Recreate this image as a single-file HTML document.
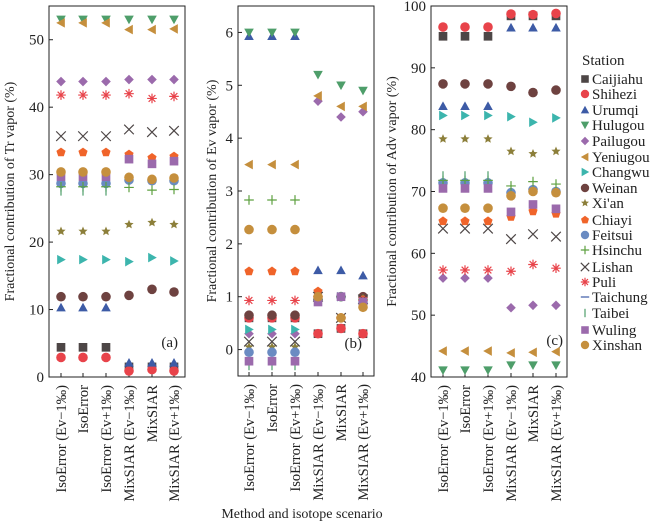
<!DOCTYPE html>
<html><head><meta charset="utf-8"><style>
html,body{margin:0;padding:0;background:#fff;}
svg{display:block;font-family:"Liberation Serif",serif;}
svg text{font-family:"Liberation Serif",serif;}
</style></head><body>
<svg id="s" width="650" height="524" viewBox="0 0 650 524" xmlns="http://www.w3.org/2000/svg"></svg>
<script>
const S=document.getElementById('s');
const FF='font-family="Liberation Serif, serif"';
let h='';
const st=[
['Caijiahu','#4d4646','sq'],['Shihezi','#e8434a','ci'],['Urumqi','#3d5ba6','tu'],['Hulugou','#4e9e6a','td'],
['Pailugou','#9b6aac','di'],['Yeniugou','#c58f3d','tl'],['Changwu','#3cb5ad','tr'],['Weinan','#6e4240','ci'],
["Xi'an",'#8c7f3a','star'],['Chiayi','#f0642a','pent'],['Feitsui','#6a8bc2','ci'],['Hsinchu','#5ea040','plus'],
['Lishan','#4d4646','x'],['Puli','#e8434a','ast'],['Taichung','#3d5ba6','hl'],['Taibei','#4e9e6a','vl'],
['Wuling','#9b6aac','sq'],['Xinshan','#c58f3d','ci']];
function mk(t,c,x,y,r){r=r||4.8;
 switch(t){
 case 'sq':return `<rect x="${x-r*0.9}" y="${y-r*0.9}" width="${r*1.8}" height="${r*1.8}" fill="${c}"/>`;
 case 'ci':return `<circle cx="${x}" cy="${y}" r="${r}" fill="${c}"/>`;
 case 'tu':return `<polygon points="${x},${y-r} ${x+r},${y+r*0.8} ${x-r},${y+r*0.8}" fill="${c}"/>`;
 case 'td':return `<polygon points="${x},${y+r} ${x+r},${y-r*0.8} ${x-r},${y-r*0.8}" fill="${c}"/>`;
 case 'tl':return `<polygon points="${x-r},${y} ${x+r*0.8},${y-r} ${x+r*0.8},${y+r}" fill="${c}"/>`;
 case 'tr':return `<polygon points="${x+r},${y} ${x-r*0.8},${y-r} ${x-r*0.8},${y+r}" fill="${c}"/>`;
 case 'di':return `<polygon points="${x},${y-r} ${x+r},${y} ${x},${y+r} ${x-r},${y}" fill="${c}"/>`;
 case 'star':{let p=[];for(let i=0;i<10;i++){let a=-Math.PI/2+i*Math.PI/5,rr=i%2?r*0.45:r;p.push((x+rr*Math.cos(a)).toFixed(1)+','+(y+rr*Math.sin(a)).toFixed(1));}return `<polygon points="${p.join(' ')}" fill="${c}"/>`;}
 case 'pent':{let p=[];for(let i=0;i<5;i++){let a=-Math.PI/2+i*2*Math.PI/5;p.push((x+r*Math.cos(a)).toFixed(1)+','+(y+r*Math.sin(a)).toFixed(1));}return `<polygon points="${p.join(' ')}" fill="${c}"/>`;}
 case 'plus':return `<path d="M${x-r} ${y}H${x+r}M${x} ${y-r}V${y+r}" stroke="${c}" stroke-width="1.2"/>`;
 case 'x':return `<path d="M${x-r} ${y-r}L${x+r} ${y+r}M${x-r} ${y+r}L${x+r} ${y-r}" stroke="${c}" stroke-width="1.2"/>`;
 case 'ast':return `<path d="M${x-r} ${y}H${x+r}M${x} ${y-r}V${y+r}M${x-r*0.7} ${y-r*0.7}L${x+r*0.7} ${y+r*0.7}M${x-r*0.7} ${y+r*0.7}L${x+r*0.7} ${y-r*0.7}" stroke="${c}" stroke-width="1.2"/>`;
 case 'hl':return `<path d="M${x-r} ${y}H${x+r}" stroke="${c}" stroke-width="1.2"/>`;
 case 'vl':return `<path d="M${x} ${y-r}V${y+r}" stroke="${c}" stroke-width="1.2"/>`;
 }}
const labels=['IsoError (Ev\u22121\u2030)','IsoError','IsoError (Ev+1\u2030)','MixSIAR (Ev\u22121\u2030)','MixSIAR','MixSIAR (Ev+1\u2030)'];
const panels=[
 {l:49,r:185,t:6,b:377,v0:0,v1:55,ticks:[0,10,20,30,40,50],xs:[61,83,106,129,152,174],title:'Fractional contribution of Tr vapor (%)',tx:14,lab:'(a)',lx:178,ly:347,
  d:[[4.4,4.4,4.4,1.5,1.5,1.5],[2.9,2.9,2.9,0.9,1.1,0.9],[10.3,10.3,10.3,2.1,2.1,2.1],[53,53,53,53,53,53],[43.8,43.8,43.8,44.1,44.1,44.1],[52.5,52.5,52.5,51.5,51.5,51.6],[17.4,17.4,17.4,17.1,17.7,17.2],[11.9,11.9,11.9,12.1,13,12.6],[21.6,21.6,21.6,22.6,22.9,22.6],[33.3,33.3,33.3,33,32.5,32.7],[28.7,28.7,28.7,29.2,29.1,29.1],[28.2,28.2,28.2,28.1,27.7,27.8],[35.7,35.7,35.7,36.7,36.3,36.5],[41.8,41.8,41.8,42,41.3,41.6],[null,null,null,null,null,null],[27.6,27.6,27.6,null,null,null],[29.7,29.7,29.7,32.3,31.6,32],[30.4,30.4,30.4,29.6,29.3,29.5]]},
 {l:238,r:374,t:6,b:376,v0:-0.5,v1:6.5,ticks:[0,1,2,3,4,5,6],xs:[249,272,295,318,341,363],title:'Fractional contribution of Ev vapor (%)',tx:216,lab:'(b)',lx:362,ly:348,
  d:[[0.6,0.6,0.6,0.3,0.4,0.3],[0.6,0.6,0.6,0.3,0.4,0.3],[5.93,5.93,5.93,1.5,1.5,1.4],[6,6,6,5.2,5.0,4.9],[0.3,0.3,0.3,4.7,4.4,4.5],[3.5,3.5,3.5,4.8,4.6,4.6],[0.38,0.38,0.38,0.95,1.0,0.9],[0.65,0.65,0.65,0.95,1.0,1.0],[0.05,0.05,0.05,1.0,1.0,0.95],[1.48,1.48,1.48,1.1,0.6,0.95],[-0.05,-0.05,-0.05,0.95,1.0,0.9],[2.83,2.83,2.83,0.95,1.0,0.95],[0.15,0.15,0.15,1.0,0.6,0.95],[0.93,0.93,0.93,1.0,0.6,0.93],[null,null,null,null,null,null],[-0.3,-0.3,-0.3,null,null,null],[-0.22,-0.22,-0.22,0.9,1.0,0.9],[2.27,2.27,2.27,1.0,0.6,0.8]]},
 {l:431,r:567,t:6,b:377,v0:40,v1:100,ticks:[40,50,60,70,80,90,100],xs:[443,465,488,511,533,556],title:'Fractional contribution of Adv vapor (%)',tx:396,lab:'(c)',lx:563,ly:345,
  d:[[95.1,95.1,95.1,98.4,98.4,98.4],[96.6,96.6,96.6,98.7,98.6,98.8],[83.8,83.8,83.8,96.5,96.5,96.5],[41.1,41.1,41.1,41.9,41.9,41.9],[56,56,56,51.2,51.6,51.6],[44.2,44.2,44.2,43.9,44,44.1],[82.3,82.3,82.3,82.1,81.2,81.9],[87.4,87.4,87.4,87,86,86.4],[78.5,78.5,78.5,76.5,76.1,76.5],[65.2,65.2,65.2,65.9,66.8,66.4],[71.4,71.4,71.4,69.8,70.3,70],[71.8,71.8,71.8,70.9,71.6,71.2],[64,64,64,62.3,63.1,62.7],[57.3,57.3,57.3,57.1,58.2,57.6],[null,null,null,null,null,null],[72.5,72.5,72.5,null,null,null],[70.5,70.5,70.5,66.7,67.9,67.2],[67.3,67.3,67.3,69.3,70,69.8]]}
];
for(const p of panels){
 const Y=v=>p.b-(v-p.v0)/(p.v1-p.v0)*(p.b-p.t);
 h+=`<rect x="${p.l}" y="${p.t}" width="${p.r-p.l}" height="${p.b-p.t}" fill="none" stroke="#222" stroke-width="1"/>`;
 for(const t of p.ticks){const y=Y(t);h+=`<line x1="${p.l}" x2="${p.l+4}" y1="${y}" y2="${y}" stroke="#222"/><text ${FF} x="${p.l-5}" y="${y+5}" font-size="15" text-anchor="end" fill="#222">${t}</text>`;}
 p.xs.forEach((x,i)=>{h+=`<line x1="${x}" x2="${x}" y1="${p.b}" y2="${p.b-4}" stroke="#222"/><text ${FF} transform="translate(${x+5},${p.b+8}) rotate(-90)" font-size="14.5" text-anchor="end" fill="#222">${labels[i]}</text>`;});
 h+=`<text ${FF} transform="translate(${p.tx},${(p.t+p.b)/2}) rotate(-90)" font-size="14" text-anchor="middle" fill="#222">${p.title}</text>`;
 h+=`<text ${FF} x="${p.lx}" y="${p.ly}" font-size="15" text-anchor="end" fill="#222">${p.lab}</text>`;
 st.forEach((s,k)=>{p.d[k].forEach((v,i)=>{if(v!==null)h+=mk(s[2],s[1],p.xs[i],Y(v));});});
}
const ly=[79,94,110,125,141,157,172,188,203,220,235,250,267,282,297,313,330,345];
h+=`<text ${FF} x="582" y="65" font-size="15" fill="#222">Station</text>`;
st.forEach((s,k)=>{h+=mk(s[2],s[1],585,ly[k],4.2)+`<text ${FF} x="592" y="${ly[k]+5}" font-size="15" fill="#222">${s[0]}</text>`;});
h+=`<text ${FF} x="302" y="518" font-size="14" text-anchor="middle" fill="#222">Method and isotope scenario</text>`;
S.innerHTML=h;
</script>
</body></html>
